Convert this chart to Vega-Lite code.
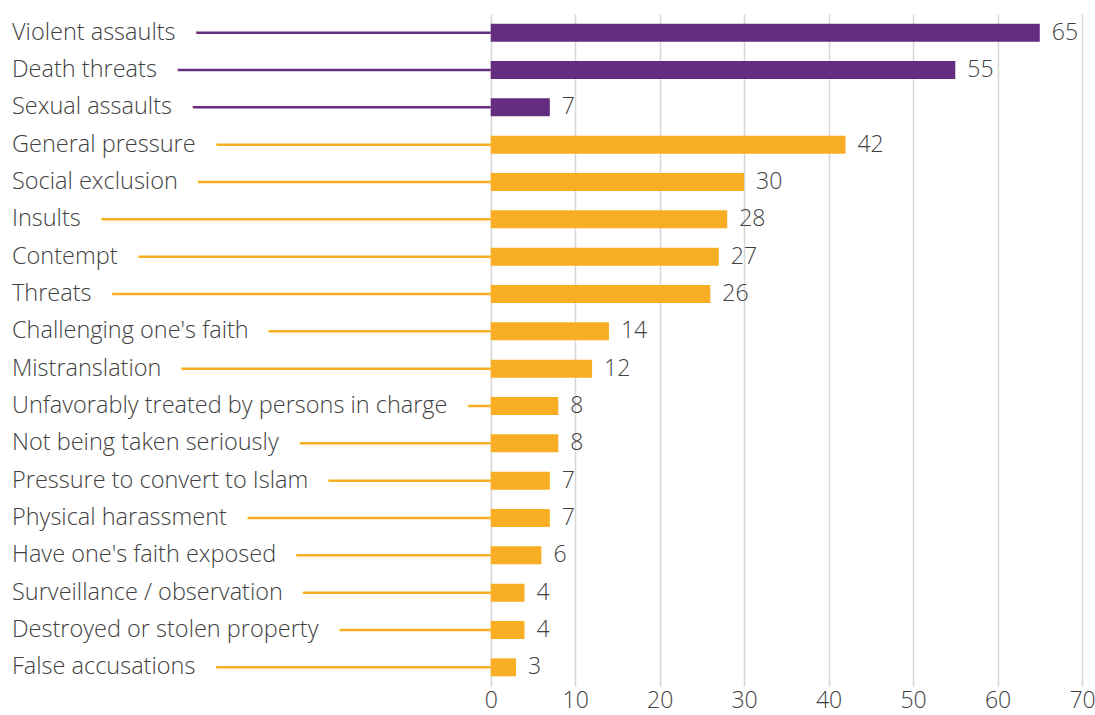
{
  "$schema": "https://vega.github.io/schema/vega-lite/v6.json",
  "width": 1070,
  "height": 672,
  "autosize": {"type": "none"},
  "padding": {"left": 12, "top": 14, "right": 13, "bottom": 29},
  "background": "white",
  "config": {"view": {"stroke": null}, "font": "Open Sans"},
  "data": {
    "values": [
      {"category": "Violent assaults", "value": 65, "group": "violence"},
      {"category": "Death threats", "value": 55, "group": "violence"},
      {"category": "Sexual assaults", "value": 7, "group": "violence"},
      {"category": "General pressure", "value": 42, "group": "other"},
      {"category": "Social exclusion", "value": 30, "group": "other"},
      {"category": "Insults", "value": 28, "group": "other"},
      {"category": "Contempt", "value": 27, "group": "other"},
      {"category": "Threats", "value": 26, "group": "other"},
      {"category": "Challenging one's faith", "value": 14, "group": "other"},
      {"category": "Mistranslation", "value": 12, "group": "other"},
      {"category": "Unfavorably treated by persons in charge", "value": 8, "group": "other"},
      {"category": "Not being taken seriously", "value": 8, "group": "other"},
      {"category": "Pressure to convert to Islam", "value": 7, "group": "other"},
      {"category": "Physical harassment", "value": 7, "group": "other"},
      {"category": "Have one's faith exposed", "value": 6, "group": "other"},
      {"category": "Surveillance / observation", "value": 4, "group": "other"},
      {"category": "Destroyed or stolen property", "value": 4, "group": "other"},
      {"category": "False accusations", "value": 3, "group": "other"}
    ]
  },
  "encoding": {
    "y": {
      "field": "category",
      "type": "nominal",
      "sort": null,
      "axis": null,
      "scale": {"paddingInner": 0.52, "paddingOuter": 0.26}
    }
  },
  "layer": [
    {
      "mark": {"type": "rule", "strokeWidth": 2.5},
      "encoding": {
        "x": {
          "datum": -56.67,
          "type": "quantitative",
          "scale": {"domain": [-56.67, 70], "nice": false, "zero": false},
          "axis": {
            "values": [0, 10, 20, 30, 40, 50, 60, 70],
            "title": null,
            "grid": true,
            "gridColor": "#d6d6d6",
            "gridWidth": 1.5,
            "domain": false,
            "ticks": false,
            "labelFont": "Open Sans",
            "labelFontWeight": 300,
            "labelFontSize": 23,
            "labelColor": "#3f3f3f",
            "labelPadding": 3,
            "labelFlush": false,
            "labelOverlap": false
          }
        },
        "x2": {"datum": 0},
        "color": {
          "field": "group",
          "type": "nominal",
          "scale": {"domain": ["violence", "other"], "range": ["#652D80", "#F8AE24"]},
          "legend": null
        }
      }
    },
    {
      "mark": {
        "type": "text",
        "align": "left",
        "baseline": "middle",
        "font": "Open Sans",
        "fontWeight": 300,
        "fontSize": 23.5,
        "fill": "white",
        "stroke": "white",
        "strokeWidth": 44,
        "strokeJoin": "round",
        "strokeCap": "round"
      },
      "encoding": {
        "x": {"datum": -56.67, "type": "quantitative"},
        "text": {"field": "category"}
      }
    },
    {
      "mark": {
        "type": "text",
        "align": "left",
        "baseline": "middle",
        "font": "Open Sans",
        "fontWeight": 300,
        "fontSize": 23.5,
        "fill": "#3f3f3f"
      },
      "encoding": {
        "x": {"datum": -56.67, "type": "quantitative"},
        "text": {"field": "category"}
      }
    },
    {
      "mark": {"type": "bar"},
      "encoding": {
        "x": {"field": "value", "type": "quantitative"},
        "x2": {"datum": 0},
        "color": {"field": "group", "type": "nominal", "legend": null}
      }
    },
    {
      "mark": {
        "type": "text",
        "align": "left",
        "baseline": "middle",
        "dx": 12,
        "font": "Open Sans",
        "fontWeight": 300,
        "fontSize": 23,
        "fill": "#3f3f3f"
      },
      "encoding": {
        "x": {"field": "value", "type": "quantitative"},
        "text": {"field": "value"}
      }
    }
  ]
}
